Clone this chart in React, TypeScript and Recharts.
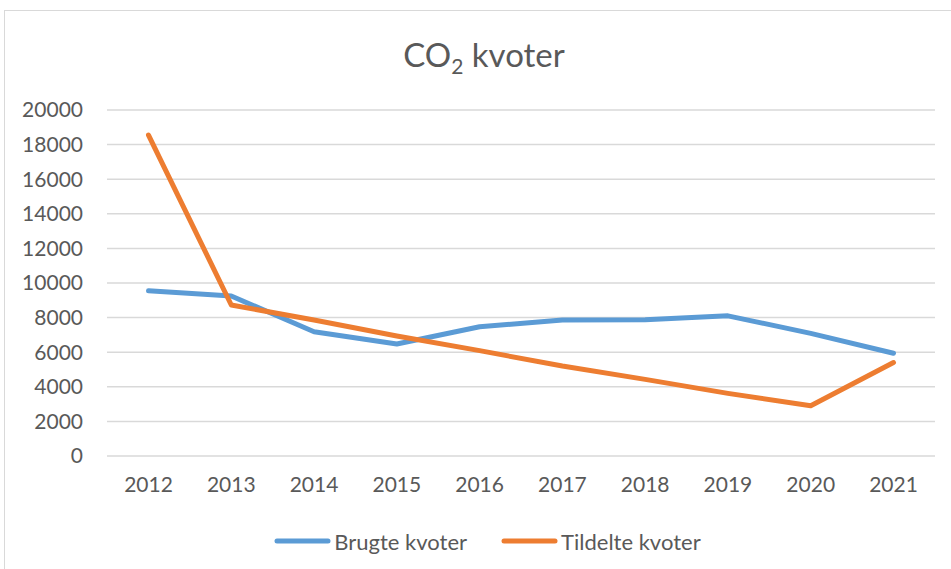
import React from "react";
import { LineChart, Line, XAxis, YAxis, CartesianGrid, Legend } from "recharts";

const years = ["2012", "2013", "2014", "2015", "2016", "2017", "2018", "2019", "2020", "2021"];
const brugte = [9550, 9250, 7180, 6470, 7470, 7860, 7870, 8100, 7090, 5940];
const tildelte = [18550, 8730, 7860, 6940, 6090, 5200, 4430, 3620, 2900, 5400];
const yTicks = [0, 2000, 4000, 6000, 8000, 10000, 12000, 14000, 16000, 18000, 20000];

const data = years.map((y, i) => ({ year: y, brugte: brugte[i], tildelte: tildelte[i] }));

const FONT = "Lato, 'Open Sans', sans-serif";
const TEXT = "#595959";

const renderLegend = (props: any) => {
  const { payload } = props;
  return (
    <div style={{ height: 30, paddingLeft: 40, display: "flex", justifyContent: "center", alignItems: "center", fontFamily: FONT, fontSize: 22, color: TEXT }}>
      {payload.map((p: any, i: number) => (
        <div key={i} style={{ display: "flex", alignItems: "center", marginLeft: i === 0 ? 0 : 34 }}>
          <svg width={57} height={10} style={{ marginRight: 3 }}>
            <line x1={3} y1={5} x2={54} y2={5} stroke={p.color} strokeWidth={5} strokeLinecap="round" />
          </svg>
          <span>{p.value}</span>
        </div>
      ))}
    </div>
  );
};

export default function App() {
  return (
    <div style={{ position: "absolute", left: 0, top: 0, width: 951, height: 569, overflow: "hidden", background: "#fff" }}>
      <div style={{ position: "absolute", left: 4, top: 10, width: 980, height: 600, border: "1px solid #d9d9d9", boxSizing: "border-box" }} />
      <div style={{ position: "absolute", left: 0, width: 968, top: 34, textAlign: "center", fontFamily: FONT, fontSize: 33, color: TEXT, lineHeight: "40px" }}>
        CO<sub style={{ fontSize: 21, verticalAlign: "-7px", lineHeight: 0 }}>2</sub> kvoter
      </div>
      <div style={{ position: "absolute", left: 0, top: 0 }}>
        <LineChart width={951} height={569} data={data} margin={{ top: 110, right: 16, bottom: 13, left: 0 }}>
          <CartesianGrid vertical={false} stroke="#d9d9d9" strokeWidth={1.5} />
          <XAxis
            dataKey="year"
            axisLine={false}
            tickLine={false}
            height={70}
            padding={{ left: 41.5, right: 41.5 }}
            tickMargin={15}
            tick={{ fill: TEXT, fontSize: 21, fontFamily: FONT }}
            interval={0}
          />
          <YAxis
            domain={[0, 20000]}
            ticks={yTicks}
            axisLine={false}
            tickLine={false}
            width={107}
            tickMargin={18}
            tick={{ fill: TEXT, fontSize: 21, fontFamily: FONT }}
            interval={0}
          />
          <Legend verticalAlign="bottom" content={renderLegend} />
          <Line type="linear" dataKey="brugte" name="Brugte kvoter" stroke="#5B9BD5" strokeWidth={5} strokeLinecap="round" strokeLinejoin="round" dot={false} activeDot={false} isAnimationActive={false} />
          <Line type="linear" dataKey="tildelte" name="Tildelte kvoter" stroke="#ED7D31" strokeWidth={5} strokeLinecap="round" strokeLinejoin="round" dot={false} activeDot={false} isAnimationActive={false} />
        </LineChart>
      </div>
    </div>
  );
}
